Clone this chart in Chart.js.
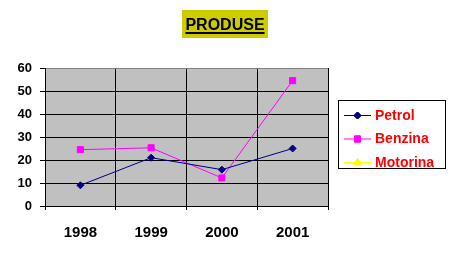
<!DOCTYPE html>
<html>
<head>
<meta charset="utf-8">
<script src="https://cdn.jsdelivr.net/npm/chart.js@4"></script>
<style>
  html, body { margin: 0; padding: 0; background: #fff; }
  #wrap { position: relative; width: 451px; height: 259px; }
</style>
</head>
<body>
<div id="wrap"><canvas id="lineChart" width="451" height="259"></canvas></div>
<script>
const years = ['1998', '1999', '2000', '2001'];
const petrol = [9, 21, 15.8, 25];
const benzina = [24.5, 25.3, 12.2, 54.5];
const motorina = [null, null, null, null];
const yTicks = [0, 10, 20, 30, 40, 50, 60];

const FONT = '"Liberation Sans", Arial, sans-serif';

// grey plot area, title box and legend box
const decor = {
    id: 'decor',
    beforeDraw(chart) {
        const { ctx, chartArea: a } = chart;
        ctx.save();
        ctx.fillStyle = '#C0C0C0';
        ctx.fillRect(a.left, a.top, a.right - a.left, a.bottom - a.top);
        ctx.restore();
    },
    afterDraw(chart) {
        const ctx = chart.ctx;
        ctx.save();
        // title
        ctx.fillStyle = '#CCCC00';
        ctx.fillRect(182, 10, 86, 28);
        ctx.font = 'bold 16px ' + FONT;
        ctx.fillStyle = '#000';
        ctx.textAlign = 'center';
        ctx.textBaseline = 'alphabetic';
        ctx.fillText('PRODUSE', 225, 30);
        const w = ctx.measureText('PRODUSE').width;
        ctx.fillRect(225 - w / 2, 32, w, 2);

        // legend
        ctx.strokeStyle = '#000';
        ctx.lineWidth = 1;
        ctx.strokeRect(338.5, 100.5, 107, 68);
        ctx.font = 'bold 14px ' + FONT;
        ctx.textAlign = 'left';
        ctx.textBaseline = 'middle';
        chart.data.datasets.forEach((ds, i) => {
            const y = 115 + i * 23.5;
            ctx.strokeStyle = ds.borderColor;
            ctx.beginPath();
            ctx.moveTo(344, y + 0.5);
            ctx.lineTo(371, y + 0.5);
            ctx.stroke();
            Chart.helpers.drawPoint(ctx, {
                pointStyle: ds.pointStyle,
                radius: ds.pointRadius,
                rotation: 0,
                borderWidth: 1
            }, 357.5, y + 0.5);
            ctx.fillStyle = ds.pointBackgroundColor;
            ctx.strokeStyle = ds.borderColor;
            ctx.fill();
            ctx.stroke();
            ctx.fillStyle = '#FF0000';
            ctx.fillText(ds.label, 375, y + 1);
        });
        ctx.restore();
    }
};

new Chart(document.getElementById('lineChart'), {
    type: 'line',
    data: {
        labels: years,
        datasets: [
            {
                label: 'Petrol',
                data: petrol,
                borderColor: '#000080',
                backgroundColor: '#000080',
                pointBackgroundColor: '#000080',
                pointStyle: 'rectRot',
                pointRadius: 3.5,
                borderWidth: 1
            },
            {
                label: 'Benzina',
                data: benzina,
                borderColor: '#FF00FF',
                backgroundColor: '#FF00FF',
                pointBackgroundColor: '#FF00FF',
                pointStyle: 'rect',
                pointRadius: 4.3,
                borderWidth: 1
            },
            {
                label: 'Motorina',
                data: motorina,
                borderColor: '#FFFF00',
                backgroundColor: '#FFFF00',
                pointBackgroundColor: '#FFFF00',
                pointStyle: 'triangle',
                pointRadius: 4,
                borderWidth: 1
            }
        ]
    },
    options: {
        responsive: false,
        animation: false,
        layout: { padding: { top: 68, right: 123, left: 0, bottom: 0 } },
        plugins: {
            legend: { display: false },
            tooltip: { enabled: false }
        },
        scales: {
            x: {
                offset: true,
                grid: {
                    offset: true,
                    color: '#000',
                    tickColor: '#000',
                    tickLength: 4,
                    lineWidth: 1
                },
                border: { color: '#000' },
                ticks: {
                    color: '#000',
                    padding: 14,
                    font: { family: FONT, size: 15, weight: 'bold' }
                },
                afterFit(scale) { scale.height = 53; }
            },
            y: {
                min: 0,
                max: 60,
                afterBuildTicks(scale) { scale.ticks = yTicks.map(v => ({ value: v })); },
                grid: {
                    color: ctx => (ctx.tick && ctx.tick.value === 60 ? '#808080' : '#000'),
                    tickColor: '#000',
                    tickLength: 5,
                    lineWidth: 1
                },
                border: { color: '#000' },
                ticks: {
                    color: '#000',
                    padding: 8,
                    font: { family: FONT, size: 13, weight: 'bold' }
                },
                afterFit(scale) { scale.width = 45; }
            }
        }
    },
    plugins: [decor]
});
</script>
</body>
</html>
